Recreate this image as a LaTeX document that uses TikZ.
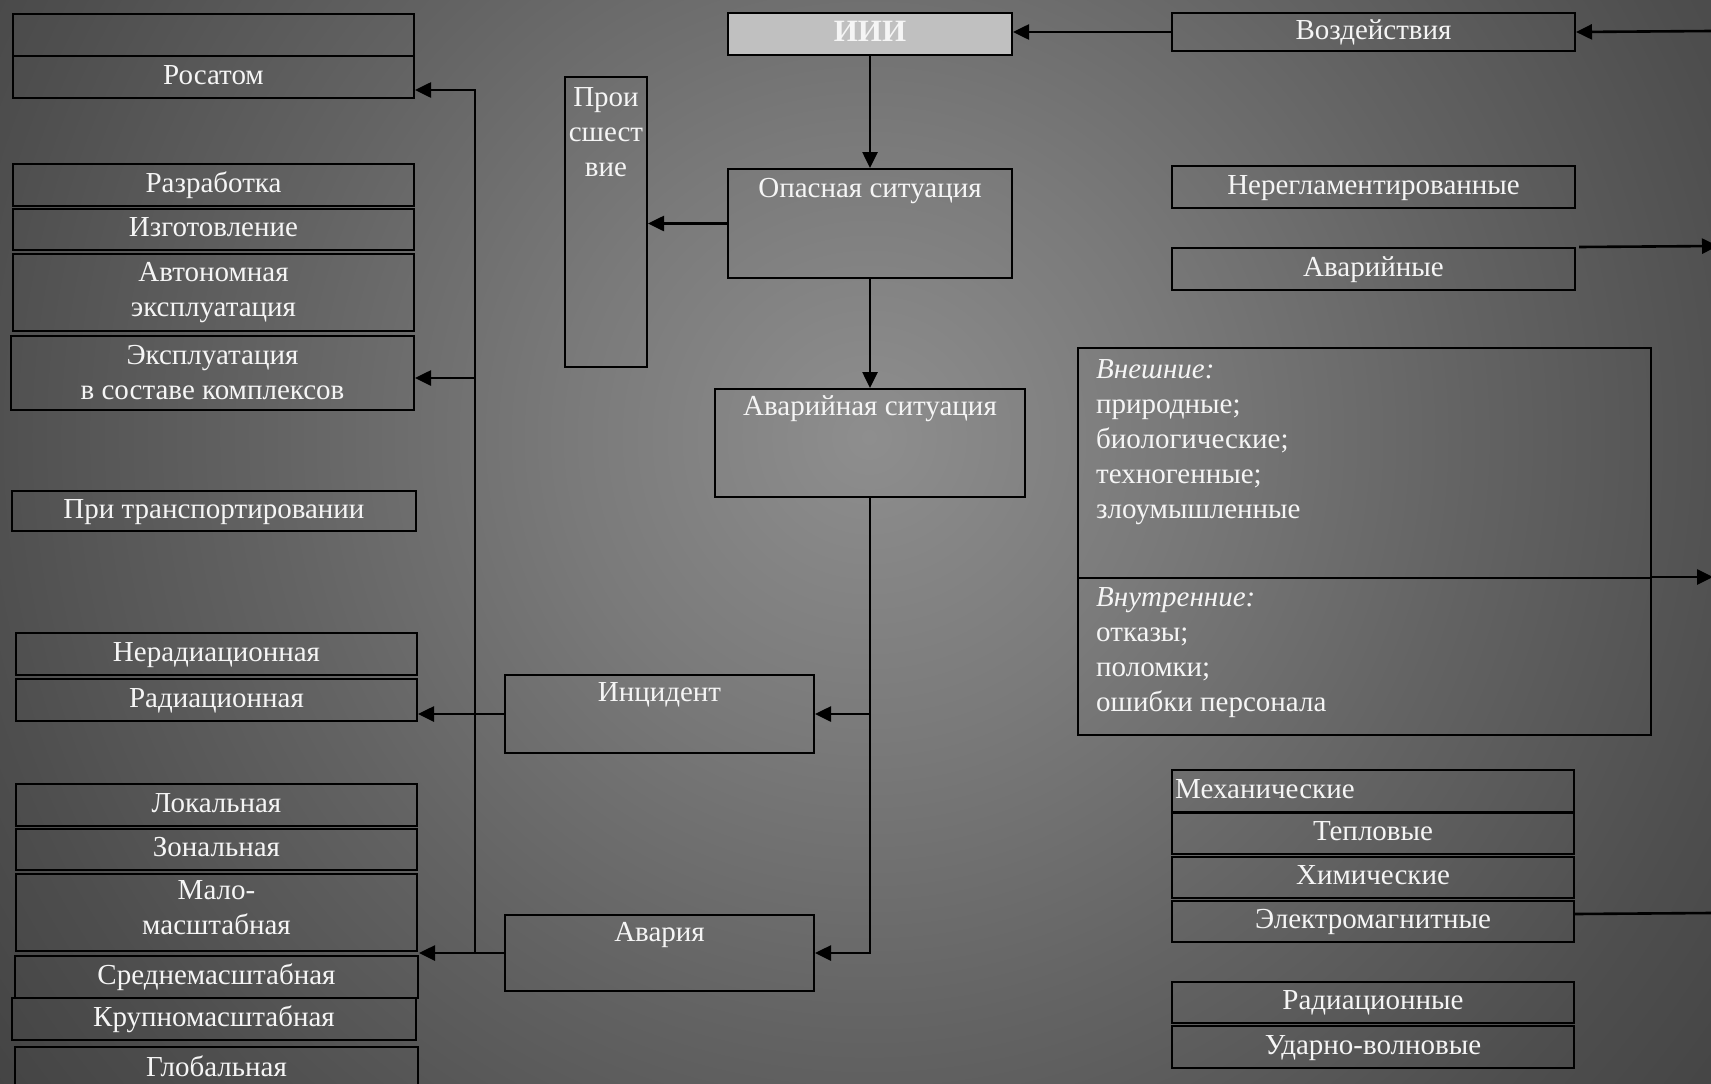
\documentclass[tikz,border=0pt]{standalone}
\usepackage{fontspec}
\setmainfont{Liberation Serif}
\usetikzlibrary{arrows.meta}
\definecolor{txtc}{HTML}{F5F5F5}
\definecolor{iiigray}{HTML}{C0C0C0}
\definecolor{c0}{HTML}{8E8E8E}
\definecolor{c1}{HTML}{7A7A7A}
\definecolor{c2}{HTML}{636363}
\definecolor{c3}{HTML}{4E4E4E}
\definecolor{c4}{HTML}{3E3E3E}
\definecolor{c5}{HTML}{303030}
\definecolor{c6}{HTML}{242424}
\definecolor{c7}{HTML}{181818}
\pgfdeclareradialshading{bgshade}{\pgfpoint{0bp}{0bp}}{color(0bp)=(c0); color(6.8bp)=(c1); color(13.6bp)=(c2); color(20.5bp)=(c3); color(27.3bp)=(c4); color(34.1bp)=(c5); color(40.9bp)=(c6); color(50bp)=(c7)}
\newcommand\fz{\fontsize{29}{35}\selectfont}
\tikzset{
 box/.style={draw=black, line width=2pt, inner sep=0pt, text=txtc, font=\fz, align=center, text height=20pt, text depth=6pt},
 txt/.style={inner sep=0pt, text=txtc, font=\fz, align=center, text height=20pt, text depth=6pt},
 multi/.style={text height=, text depth=},
 arr/.style={line width=2.6pt, draw=black, -{Triangle[length=16pt,width=15pt]}},
 ln/.style={line width=2.6pt, draw=black},
}
\newcommand\mybox[7][]{\node[box,#1,anchor=north west,minimum width={#5-#3},minimum height={#6-#4}] (#2) at (#3,#4) {#7};}
\begin{document}
\begin{tikzpicture}[x=1pt,y=-1pt]
\useasboundingbox (0,0) rectangle (1711,1084);
\begin{scope}
\clip (0,0) rectangle (1711,1084);
\shade[shading=bgshade] (-231,-663) rectangle (1969,1537);
% left column
\mybox{emp}{12}{13}{413}{55}{}
\mybox{ros}{12}{55}{413}{97}{Росатом}
\mybox{razr}{12}{163}{413}{205}{Разработка}
\mybox{izg}{12}{208}{413}{249}{Изготовление}
\mybox[multi]{avt}{12}{253}{413}{330}{Автономная\\эксплуатация}
\mybox[multi]{eks}{10}{335}{413}{409}{Эксплуатация\\в составе комплексов}
\mybox{trans}{11}{490}{415}{530}{При транспортировании}
\mybox{nerad}{15}{632}{416}{674}{Нерадиационная}
\mybox{rad}{15}{678}{416}{720}{Радиационная}
\mybox{lok}{15}{783}{416}{825}{Локальная}
\mybox{zon}{15}{828}{416}{869}{Зональная}
\mybox[multi]{malo}{15}{873}{416}{950}{Мало-\\масштабная\strut}
\mybox{sred}{14}{955}{417}{997}{Среднемасштабная}
\mybox{krup}{11}{997}{415}{1039}{Крупномасштабная}
\mybox{glob}{14}{1046}{417}{1090}{Глобальная}
% centre column
\mybox[fill=iiigray, font=\fontsize{31}{35}\selectfont\bfseries]{iii}{727}{12}{1011}{54}{ИИИ}
\mybox{opas}{727}{168}{1011}{277}{}
\mybox{prois}{564}{76}{646}{366}{}
\mybox{avsit}{714}{388}{1024}{496}{}
\mybox{inc}{504}{674}{813}{752}{}
\mybox{avaria}{504}{914}{813}{990}{}
\node[txt,anchor=north] (opasT) at ([yshift=-9pt]opas.north) {Опасная ситуация};
\node[txt,anchor=north] (avsitT) at ([yshift=-7pt]avsit.north) {Аварийная ситуация};
\node[txt,anchor=north] (incT) at ([yshift=-7pt]inc.north) {Инцидент};
\node[txt,anchor=north] (avariaT) at ([yshift=-7pt]avaria.north) {Авария};
\node[txt,multi,anchor=north] (proisT) at ([yshift=-11pt]prois.north) {Прои\\сшест\\вие};
% right column
\mybox{vozd}{1171}{12}{1574}{50}{Воздействия}
\mybox{nereg}{1171}{165}{1574}{207}{Нерегламентированные}
\mybox{avar}{1171}{247}{1574}{289}{Аварийные}
\mybox{ext}{1077}{347}{1650}{577}{}
\mybox{intl}{1077}{577}{1650}{734}{}
\node[txt,multi,align=left,anchor=north west] (extT) at (1096,359) {\textit{Внешние:}\\природные;\\биологические;\\техногенные;\\злоумышленные};
\node[txt,multi,align=left,anchor=north west] (intT) at (1096,587) {\textit{Внутренние:}\\отказы;\\поломки;\\ошибки персонала};
\mybox{meh}{1171}{769}{1573}{811}{}
\node[txt,anchor=west] (mehT) at ([xshift=4pt]meh.west) {Механические};
\mybox{tepl}{1171}{812}{1573}{853}{Тепловые}
\mybox{him}{1171}{856}{1573}{897}{Химические}
\mybox{elm}{1171}{900}{1573}{941}{Электромагнитные}
\mybox{radn}{1171}{981}{1573}{1022}{Радиационные}
\mybox{udar}{1171}{1025}{1573}{1067}{Ударно-волновые}
% coordinates
\coordinate (tTop) at (475,90);
\coordinate (tEks) at (475,378);
\coordinate (eV) at (1711,31);
\coordinate (eA) at (1718,246);
\coordinate (eX) at (1713,577);
\coordinate (eE) at (1711,913);
% connectors
\draw[arr] (iii.south) -- (opas.north);
\draw[arr] (opas.south) -- (avsit.north);
\draw[arr] (opas.west) -- (opas.west -| prois.east);
\draw[arr] (avsit.south) -- (avsit.south |- avaria.east) -- (avaria.east);
\draw[arr] (avsit.south |- inc.east) -- (inc.east);
\draw[arr] (inc.west) -- (inc.west -| rad.east);
\draw[arr] (avaria.west) -- (avaria.west -| sred.east);
\draw[arr] (avaria.west -| tTop) -- (tTop) -- (tTop -| ros.east);
\draw[arr] (tEks) -- (tEks -| eks.east);
\draw[arr] (vozd.west) -- (vozd.west -| iii.east);
\draw[arr] (eV) -- (vozd.east);
\draw[arr] ([xshift=3pt]avar.north east) -- (eA);
\draw[arr] (intl.north east) -- (eX);
\draw[ln] ([yshift=7.5pt]elm.east) -- (eE);
\end{scope}
\end{tikzpicture}
\end{document}
